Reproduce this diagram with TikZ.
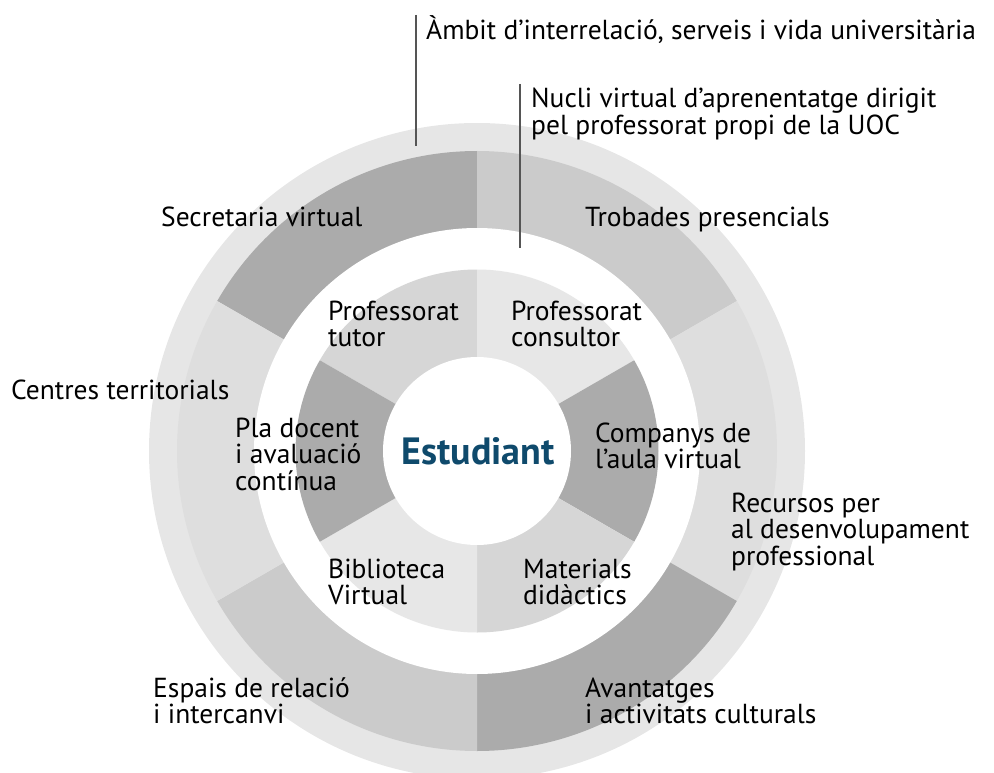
\documentclass[tikz,border=0pt]{standalone}
\usepackage{fontspec}
\setmainfont{PT Sans}
\definecolor{ringout}{HTML}{E6E6E6}
\definecolor{segdark}{HTML}{ABABAB}
\definecolor{segmid}{HTML}{CBCBCB}
\definecolor{seglight}{HTML}{DEDEDE}
\definecolor{inmid}{HTML}{D6D6D6}
\definecolor{inlight}{HTML}{E7E7E7}
\definecolor{studblue}{HTML}{0F4A6C}
\definecolor{leader}{HTML}{555555}
\begin{document}
\begin{tikzpicture}[x=1pt,y=1pt,
  lbl/.style={anchor=base west, align=left, inner sep=0pt, font=\fontsize{27.5}{26.5}\selectfont},
  leaderline/.style={draw=leader, line width=1.3pt}]
\useasboundingbox (0,0) rectangle (994,-773);
\clip (0,0) rectangle (994,-773);
\coordinate (C) at (477,-451);
% outer ring
\fill[ringout] (C) circle[radius=328pt];
% middle ring sectors
\fill[segdark]  (C) -- ++(90:300pt)  arc[start angle=90,  end angle=150, radius=300pt] -- cycle;
\fill[segmid]   (C) -- ++(30:300pt)  arc[start angle=30,  end angle=90,  radius=300pt] -- cycle;
\fill[seglight] (C) -- ++(-30:300pt) arc[start angle=-30, end angle=30,  radius=300pt] -- cycle;
\fill[segdark]  (C) -- ++(-90:300pt) arc[start angle=-90, end angle=-30, radius=300pt] -- cycle;
\fill[segmid]   (C) -- ++(210:300pt) arc[start angle=210, end angle=270, radius=300pt] -- cycle;
\fill[seglight] (C) -- ++(150:300pt) arc[start angle=150, end angle=210, radius=300pt] -- cycle;
\fill[white] (C) circle[radius=223pt];
% inner ring sectors
\fill[inmid]   (C) -- ++(90:181.5pt)  arc[start angle=90,  end angle=150, radius=181.5pt] -- cycle;
\fill[inlight] (C) -- ++(30:181.5pt)  arc[start angle=30,  end angle=90,  radius=181.5pt] -- cycle;
\fill[segdark] (C) -- ++(-30:181.5pt) arc[start angle=-30, end angle=30,  radius=181.5pt] -- cycle;
\fill[inmid]   (C) -- ++(-90:181.5pt) arc[start angle=-90, end angle=-30, radius=181.5pt] -- cycle;
\fill[inlight] (C) -- ++(210:181.5pt) arc[start angle=210, end angle=270, radius=181.5pt] -- cycle;
\fill[segdark] (C) -- ++(150:181.5pt) arc[start angle=150, end angle=210, radius=181.5pt] -- cycle;
\fill[white] (C) circle[radius=94pt];
% leader lines
\coordinate (l1top) at (416,-15);
\coordinate (l1bot) at (416,-146);
\coordinate (l2top) at (520,-84);
\coordinate (l2bot) at (520,-248);
\draw[leaderline] (l1top) -- (l1bot);
\draw[leaderline] (l2top) -- (l2bot);
% labels (anchor = baseline of the last line)
\node[lbl] (ambit) at (426,-40) {Àmbit d’interrelació, serveis i vida universitària};
\node[lbl] (nucli) at (531,-134.5) {Nucli virtual d’aprenentatge dirigit\\pel professorat propi de la UOC};
\node[lbl] (secre) at (161,-226) {Secretaria virtual};
\node[lbl] (trob) at (585,-226) {Trobades presencials};
\node[lbl] (ptutor) at (328,-346.5) {Professorat\\tutor};
\node[lbl] (pcons) at (511,-346.5) {Professorat\\consultor};
\node[lbl] (centres) at (11,-399) {Centres territorials};
\node[lbl] (pla) at (235,-490) {Pla docent\\i avaluació\\contínua};
\node[lbl] (comp) at (595,-468.5) {Companys de\\l’aula virtual};
\node[lbl] (recur) at (731,-565) {Recursos per\\al desenvolupament\\professional};
\node[lbl] (biblio) at (328,-604.5) {Biblioteca\\Virtual};
\node[lbl] (mater) at (523,-604.5) {Materials\\didàctics};
\node[lbl] (espais) at (153,-723.5) {Espais de relació\\i intercanvi};
\node[lbl] (avant) at (585,-723.5) {Avantatges\\i activitats culturals};
\node[anchor=base, inner sep=0pt, font=\fontsize{38}{38}\selectfont\bfseries, text=studblue] (estud) at (478,-464) {Estudiant};
\end{tikzpicture}
\end{document}
